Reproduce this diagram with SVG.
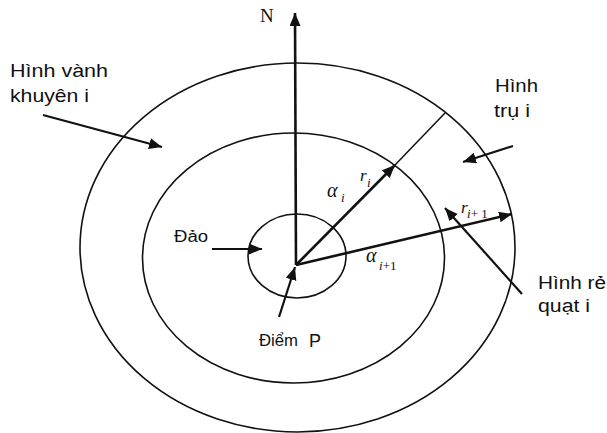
<svg xmlns="http://www.w3.org/2000/svg" width="607" height="433" viewBox="0 0 607 433">
<style>
.ring{fill:none;stroke:#111;stroke-width:1.6}
.thick{stroke:#111;stroke-width:2.6;fill:none}
.ptr{stroke:#111;stroke-width:2.2;fill:none}
.thin{stroke:#111;stroke-width:1.5;fill:none}
.lbl{font-family:"Liberation Sans",Arial,sans-serif;font-size:18px;fill:#111}
.sm{font-family:"Liberation Sans",Arial,sans-serif;font-size:16px;fill:#111}
.ser{font-family:"Liberation Serif","Times New Roman",serif;fill:#111}
.it{font-family:"Liberation Serif","Times New Roman",serif;font-style:italic;fill:#111}
</style>
<defs>
<marker id="ah" markerUnits="userSpaceOnUse" markerWidth="14" markerHeight="12" refX="13" refY="5.5" orient="auto">
<path d="M0,0 L13,5.5 L0,11 z" fill="#111"/>
</marker>
</defs>
<g id="rings">
<ellipse id="outer" class="ring" cx="297.5" cy="247.5" rx="217.5" ry="184.5"/>
<ellipse id="inner" class="ring" cx="293.5" cy="258" rx="151" ry="125"/>
<ellipse id="island" class="ring" cx="297" cy="256" rx="49" ry="42"/>
</g>
<g id="connectors">
<line class="thick" x1="296" y1="265" x2="295" y2="13" marker-end="url(#ah)"/>
<line class="thick" x1="296" y1="265" x2="395" y2="165" marker-end="url(#ah)"/>
<line class="thick" x1="296" y1="265" x2="512" y2="214" marker-end="url(#ah)"/>
<line class="thin" x1="395" y1="165" x2="445" y2="113"/>
<line class="ptr" x1="43" y1="115" x2="162" y2="147" marker-end="url(#ah)"/>
<line class="ptr" x1="513" y1="146" x2="463" y2="162" marker-end="url(#ah)"/>
<line class="ptr" x1="522" y1="294" x2="445" y2="208" marker-end="url(#ah)"/>
<line class="ptr" x1="212" y1="249" x2="262" y2="249" marker-end="url(#ah)"/>
<line class="ptr" x1="279" y1="317" x2="295" y2="267" marker-end="url(#ah)"/>
</g>
<g id="label-N"><text class="ser" x="260" y="22" font-size="19">N</text></g>
<g id="label-vanh-khuyen">
<text class="lbl" x="10" y="77" textLength="98" lengthAdjust="spacingAndGlyphs">Hình vành</text>
<text class="lbl" x="10" y="102" textLength="79" lengthAdjust="spacingAndGlyphs">khuyên i</text>
</g>
<g id="label-tru">
<text class="lbl" x="495" y="92" textLength="43" lengthAdjust="spacingAndGlyphs">Hình</text>
<text class="lbl" x="494" y="117" textLength="36" lengthAdjust="spacingAndGlyphs">trụ i</text>
</g>
<g id="label-re-quat">
<text class="lbl" x="538" y="289" textLength="68" lengthAdjust="spacingAndGlyphs">Hình rẻ</text>
<text class="lbl" x="538" y="312" textLength="52" lengthAdjust="spacingAndGlyphs">quạt i</text>
</g>
<g id="label-dao"><text class="sm" x="174" y="242" textLength="34" lengthAdjust="spacingAndGlyphs">Đảo</text></g>
<g id="label-diem-p">
<text class="sm" x="259" y="346" textLength="39" lengthAdjust="spacingAndGlyphs">Điểm</text>
<text class="lbl" x="309" y="347" font-size="20">P</text>
</g>
<g id="label-alpha-i">
<text class="it" x="327" y="197" font-size="20">α</text>
<text class="it" x="341" y="202" font-size="13">i</text>
</g>
<g id="label-r-i">
<text class="it" x="360" y="181" font-size="17">r</text>
<text class="it" x="367" y="187" font-size="13">i</text>
</g>
<g id="label-alpha-i1">
<text class="it" x="366" y="262" font-size="20">α</text>
<text class="ser" x="379" y="270" font-size="13"><tspan font-style="italic">i</tspan>+1</text>
</g>
<g id="label-r-i1">
<text class="it" x="461" y="213" font-size="17">r</text>
<text class="ser" x="467" y="218" font-size="13"><tspan font-style="italic">i</tspan>+ 1</text>
</g>
</svg>
